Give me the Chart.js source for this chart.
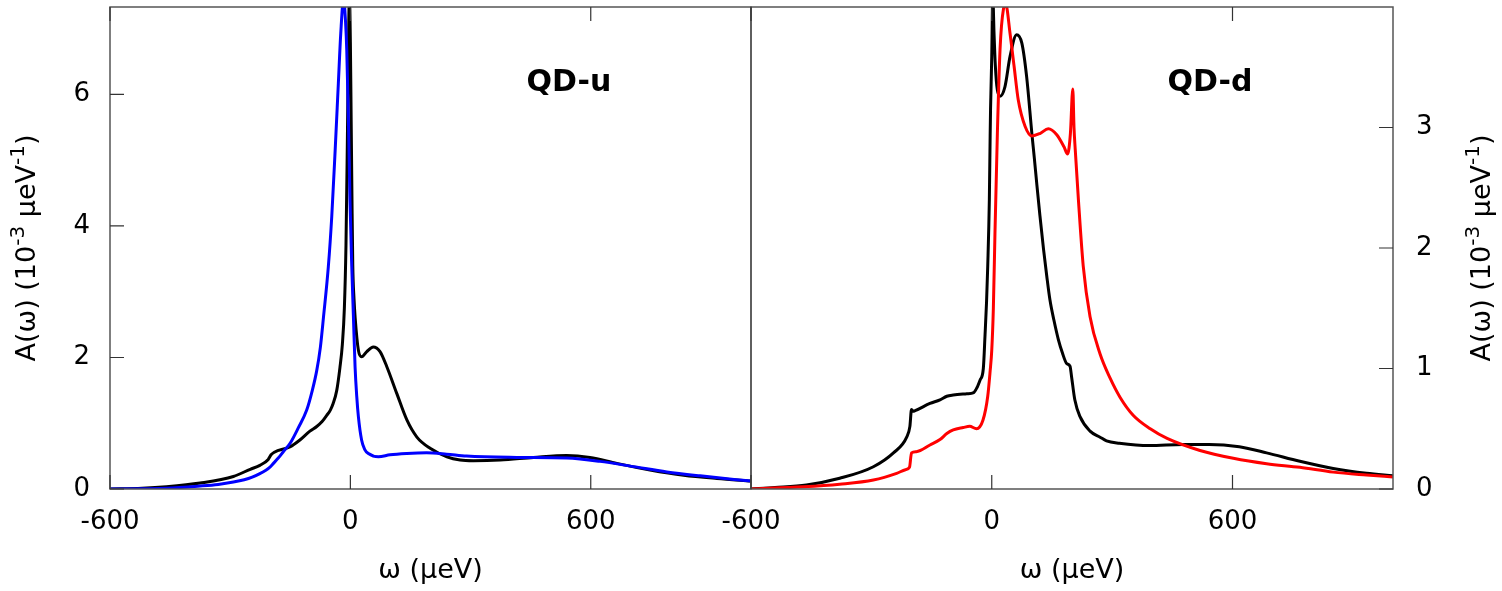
<!DOCTYPE html>
<html>
<head>
<meta charset="utf-8">
<script src="https://cdn.jsdelivr.net/npm/chart.js@4.4.1/dist/chart.umd.min.js"></script>
<style>
  body { margin: 0; background: #fff; width: 1502px; height: 591px; overflow: hidden; position: relative; }
  .wrap { position: absolute; top: 0; height: 591px; }
</style>
</head>
<body>
<div class="wrap" style="left:0;width:800px"><canvas id="qdu"></canvas></div>
<div class="wrap" style="left:700px;width:802px"><canvas id="qdd"></canvas></div>
<script>
// omega in micro-eV, A in 1e-3 / micro-eV
const xTicks = [-600, 0, 600];
const uYTicks = [0, 2, 4, 6];
const dYTicks = [0, 1, 2, 3];

// QD-u, black
const uBlackW = [-600,-520,-459,-375,-292,-250,-226,-205,-198,-190,-151,-126,-101,-84,-70,-59,-50,-43,-34,-26,-20,-15,-11,-7.5,-5,-2.5,0,2,4,6,9,12,20,28,41,57,74,91,116,141,166,199,241,274,307,374,457,540,598,665,748,832,915,1000];
const uBlackA = [0,0.012,0.035,0.09,0.19,0.30,0.36,0.45,0.52,0.56,0.64,0.745,0.88,0.95,1.03,1.12,1.2,1.3,1.5,1.85,2.2,2.75,3.7,5.3,6.6,7.5,6.8,5.6,4.4,3.4,2.9,2.6,2.11,2.01,2.09,2.16,2.09,1.86,1.45,1.05,0.79,0.62,0.49,0.44,0.43,0.44,0.48,0.51,0.48,0.39,0.29,0.21,0.16,0.12];
// QD-u, blue
const uBlueW = [-600,-520,-459,-375,-330,-292,-265,-245,-226,-210,-203,-192,-180,-167,-150,-130,-109,-95,-84,-75,-67,-55,-46.5,-38,-30,-24,-17,-12,-9,-5,-1,3.5,7.6,11.7,16,20,28,36,45,70,99,141,190,240,290,415,540,623,707,790,873,1000];
const uBlueA = [0,0.004,0.01,0.045,0.07,0.105,0.14,0.18,0.235,0.29,0.32,0.39,0.47,0.57,0.70,0.93,1.20,1.50,1.80,2.15,2.62,3.38,4.14,5.15,6.17,6.93,7.45,7.1,6.67,5.66,4.39,3.38,2.62,1.86,1.4,1.10,0.745,0.6,0.54,0.49,0.52,0.54,0.55,0.53,0.50,0.48,0.47,0.42,0.34,0.26,0.20,0.12];

// QD-d, black
const dBlackW = [-600,-540,-462,-379,-295,-245,-212,-204,-200,-196,-191,-154,-129,-112,-96,-62,-45,-37,-29,-21,-16.7,-13,-10,-6,-4,-3,0,2.5,5.7,9,14,20.7,33,45.6,62,75,87,100,106,112,120,129,137,145,155,166,176,187,195,199,207,220,245,270,286,318,393,476,542,617,685,768,851,934,1000];
const dBlackA = [0,0.012,0.033,0.089,0.185,0.30,0.43,0.52,0.66,0.645,0.65,0.71,0.74,0.77,0.78,0.79,0.80,0.84,0.905,1.0,1.28,1.55,1.85,2.40,2.93,3.15,3.59,4.1,3.78,3.51,3.31,3.26,3.34,3.59,3.77,3.70,3.42,2.95,2.75,2.54,2.27,1.99,1.77,1.57,1.40,1.24,1.13,1.04,1.02,0.93,0.74,0.60,0.48,0.43,0.40,0.38,0.36,0.37,0.37,0.35,0.30,0.23,0.17,0.13,0.11];
// QD-d, red
const dRedW = [-600,-470,-379,-295,-237,-215,-205,-200,-188,-154,-129,-112,-96,-71,-55,-38,-22,-10,-4,0,4,8,14,20.7,29,35,45.6,55.6,66,83,100,120,141,162,180,189,196,202,205,208,216,228,245,270,295,320,353,395,437,519,602,685,768,851,934,1000];
const dRedA = [0,0.018,0.04,0.075,0.13,0.16,0.18,0.30,0.31,0.365,0.41,0.46,0.49,0.51,0.52,0.50,0.57,0.77,0.98,1.15,1.5,2.12,2.95,3.65,3.98,4.02,3.78,3.51,3.23,3.01,2.93,2.95,2.99,2.94,2.84,2.78,2.95,3.32,3.0,2.82,2.40,1.85,1.43,1.12,0.92,0.76,0.61,0.50,0.42,0.32,0.255,0.21,0.18,0.14,0.116,0.10];

const xTitle = 'ω (μeV)';
const yTitleParts = [['A(ω) (10', false], ['-3', true], [' μeV', false], ['-1', true], [')', false]];

const FONT = 'DejaVu Sans';

function pts(ws, as) {
  return ws.map((w, i) => ({ x: w, y: as[i] }));
}

function line(label, ws, as, color, order) {
  return {
    label: label,
    data: pts(ws, as),
    borderColor: color,
    borderWidth: 3,
    pointRadius: 0,
    fill: false,
    cubicInterpolationMode: 'monotone',
    clip: 0,
    order: order
  };
}

function drawYTitle(ctx, cx, cy) {
  let total = 0;
  const parts = yTitleParts.map(([t, sup]) => {
    ctx.font = (sup ? '20px ' : '27px ') + `"${FONT}"`;
    const w = ctx.measureText(t).width;
    total += w;
    return { t, sup, w };
  });
  ctx.save();
  ctx.translate(cx, cy);
  ctx.rotate(-Math.PI / 2);
  ctx.textAlign = 'left';
  ctx.textBaseline = 'alphabetic';
  let pos = -total / 2;
  parts.forEach(p => {
    ctx.font = (p.sup ? '20px ' : '27px ') + `"${FONT}"`;
    ctx.fillText(p.t, pos, p.sup ? -11 : 0);
    pos += p.w;
  });
  ctx.restore();
}

// frame, inward ticks and the texts round the plot
const decor = {
  id: 'decor',
  afterDraw(chart, args, o) {
    const { ctx, chartArea: a, scales } = chart;
    const xs = scales.x, ys = scales.y;
    ctx.save();
    ctx.strokeStyle = '#555';
    ctx.lineWidth = 1.5;
    ctx.strokeRect(a.left, a.top, a.right - a.left, a.bottom - a.top);

    ctx.strokeStyle = '#333';
    ctx.lineWidth = 1.2;
    ctx.beginPath();
    xs.ticks.forEach(t => {
      const px = xs.getPixelForValue(t.value);
      ctx.moveTo(px, a.bottom); ctx.lineTo(px, a.bottom - 14);
      ctx.moveTo(px, a.top); ctx.lineTo(px, a.top + 14);
    });
    const right = o.ySide === 'right';
    ys.ticks.forEach(t => {
      const py = ys.getPixelForValue(t.value);
      const bx = right ? a.right : a.left;
      ctx.moveTo(bx, py); ctx.lineTo(bx + (right ? -14 : 14), py);
    });
    ctx.stroke();

    ctx.fillStyle = '#000';
    ctx.textAlign = 'center';
    ctx.textBaseline = 'alphabetic';
    ctx.font = `bold 30px "${FONT}"`;
    ctx.fillText(o.label, a.left + 459, 91);
    ctx.font = `27px "${FONT}"`;
    ctx.fillText(xTitle, (a.left + a.right) / 2, 578);

    const cy = (a.top + a.bottom) / 2;
    drawYTitle(ctx, right ? a.right + 97 : a.left - 75, cy);
    ctx.restore();
  }
};

function makeChart(id, datasets, yMax, yTicks, side, label, pad) {
  const ctx = document.getElementById(id).getContext('2d');
  new Chart(ctx, {
    type: 'line',
    data: { datasets: datasets },
    plugins: [decor],
    options: {
      responsive: true,
      maintainAspectRatio: false,
      animation: false,
      events: [],
      layout: { padding: pad },
      scales: {
        x: {
          type: 'linear',
          min: -600,
          max: 1000,
          afterBuildTicks: s => { s.ticks = xTicks.map(v => ({ value: v })); },
          afterFit: s => { s.height = 102; s.paddingLeft = 0; s.paddingRight = 0; },
          grid: { display: false, drawTicks: false },
          border: { display: false },
          ticks: { padding: 18, color: '#000', font: { family: FONT, size: 26 }, maxRotation: 0, autoSkip: false }
        },
        y: {
          position: side,
          min: 0,
          max: yMax,
          afterBuildTicks: s => { s.ticks = yTicks.map(v => ({ value: v })); },
          afterFit: s => { s.width = side === 'right' ? 109 : 110; s.paddingTop = 0; s.paddingBottom = 0; },
          grid: { display: false, drawTicks: false },
          border: { display: false },
          ticks: { padding: side === 'right' ? 23 : 20, color: '#000', font: { family: FONT, size: 26 } }
        }
      },
      plugins: {
        legend: { display: false },
        tooltip: { enabled: false },
        decor: { ySide: side, label: label }
      }
    }
  });
}

makeChart('qdu', [
  line('black', uBlackW, uBlackA, '#000000', 1),
  line('blue', uBlueW, uBlueA, '#0000ff', 0)
], 7.33, uYTicks, 'left', 'QD-u', { top: 7, right: 49, bottom: 0, left: 0 });

makeChart('qdd', [
  line('black', dBlackW, dBlackA, '#000000', 1),
  line('red', dRedW, dRedA, '#ff0000', 0)
], 4.0, dYTicks, 'right', 'QD-d', { top: 7, right: 0, bottom: 0, left: 51 });
</script>
</body>
</html>
